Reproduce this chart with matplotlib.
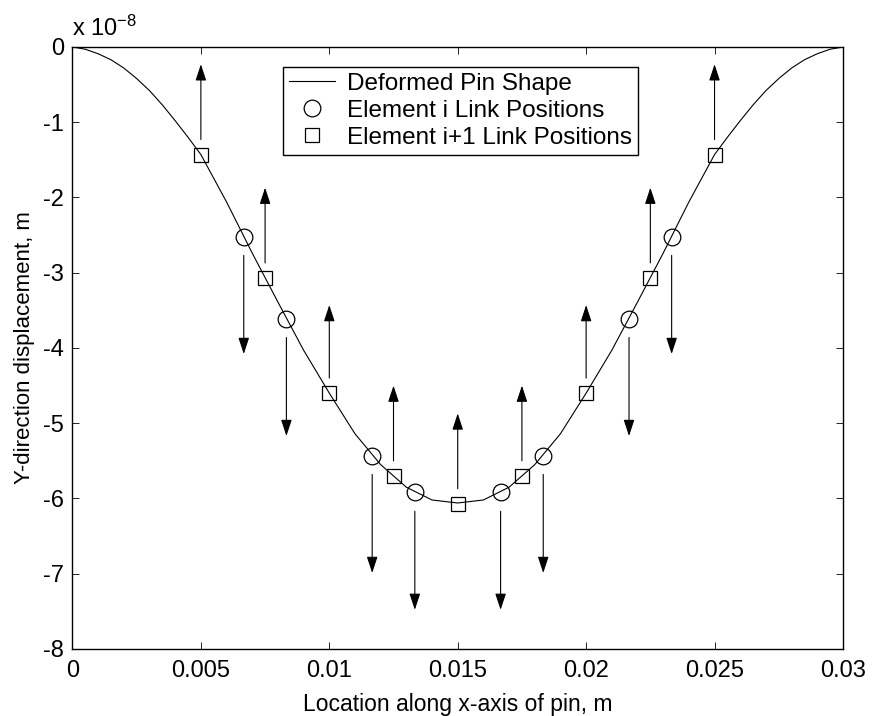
import numpy as np
import matplotlib
matplotlib.use('Agg')
import matplotlib.pyplot as plt
from matplotlib.ticker import FormatStrFormatter

plt.rcParams['font.family'] = ['Liberation Sans', 'DejaVu Sans']
plt.rcParams['mathtext.fontset'] = 'custom'
plt.rcParams['mathtext.rm'] = 'Liberation Sans'
plt.rcParams['mathtext.it'] = 'Liberation Sans:italic'

# pin shape, y in units of 1e-8 m
pin_x = [0.0000, 0.0005, 0.0010, 0.0015, 0.0020, 0.0025, 0.0030, 0.0035, 0.0040, 0.0045,
         0.005, 0.006, 0.007, 0.008, 0.009, 0.010, 0.011, 0.012, 0.013, 0.014,
         0.015, 0.016, 0.017, 0.018, 0.019, 0.020, 0.021, 0.022, 0.023, 0.024,
         0.0250, 0.0255, 0.0260, 0.0265, 0.0270, 0.0275, 0.0280, 0.0285, 0.0290, 0.0295, 0.0300]
pin_y = [0.00, -0.03, -0.09, -0.17, -0.28, -0.42, -0.58, -0.77, -0.98, -1.20,
         -1.43, -2.06, -2.74, -3.39, -4.03, -4.60, -5.14, -5.55, -5.85, -6.02,
         -6.06, -6.02, -5.85, -5.55, -5.14, -4.60, -4.03, -3.39, -2.74, -2.06,
         -1.43, -1.20, -0.98, -0.77, -0.58, -0.42, -0.28, -0.17, -0.09, -0.03, 0.00]

# element i links (circles) - load pushes down
link_i_x = [0.00667, 0.00833, 0.01167, 0.01333, 0.01667, 0.01833, 0.02167, 0.02333]
link_i_y = [-2.52, -3.61, -5.43, -5.92, -5.92, -5.43, -3.61, -2.52]
link_i_force = [1.31, 1.31, 1.31, 1.31, 1.31, 1.31, 1.31, 1.31]

# element i+1 links (squares) - load pushes up
link_j_x = [0.005, 0.0075, 0.010, 0.0125, 0.015, 0.0175, 0.020, 0.0225, 0.025]
link_j_y = [-1.43, -3.07, -4.60, -5.70, -6.07, -5.70, -4.60, -3.07, -1.43]
link_j_force = [1.0, 1.0, 0.97, 1.0, 1.0, 1.0, 0.97, 1.0, 1.0]

fig = plt.figure(figsize=(8.72, 7.16), dpi=100)
ax = fig.add_axes([0.0831, 0.0936, 0.8836, 0.8408])

ax.plot(pin_x, pin_y, color='k', lw=0.8, label='Deformed Pin Shape')
ax.plot(link_i_x, link_i_y, 'o', ms=12, mfc='none', mec='k', mew=0.9,
        label='Element i Link Positions')
ax.plot(link_j_x, link_j_y, 's', ms=10.5, mfc='none', mec='k', mew=0.9,
        label='Element i+1 Link Positions')

arrow_style = '-|>,head_length=1.0,head_width=0.33'
for x, y, f in zip(link_i_x, link_i_y, link_i_force):
    ax.annotate('', xy=(x, y - 0.25 - f), xytext=(x, y - 0.25),
                arrowprops=dict(arrowstyle=arrow_style, mutation_scale=10,
                                color='k', lw=0.8, shrinkA=0, shrinkB=0))
for x, y, f in zip(link_j_x, link_j_y, link_j_force):
    ax.annotate('', xy=(x, y + 0.2 + f), xytext=(x, y + 0.2),
                arrowprops=dict(arrowstyle=arrow_style, mutation_scale=10,
                                color='k', lw=0.8, shrinkA=0, shrinkB=0))

ax.set_xlim(0, 0.03)
ax.set_ylim(-8, 0)
ax.set_xticks(np.arange(0, 0.0301, 0.005))
ax.set_yticks(np.arange(-8, 0.1, 1))
ax.xaxis.set_major_formatter(FormatStrFormatter('%g'))
ax.yaxis.set_major_formatter(FormatStrFormatter('%g'))
ax.tick_params(direction='in', length=5, width=0.6, top=True, right=True,
               labelsize=17)
ax.tick_params(axis='x', pad=8)
ax.tick_params(axis='y', pad=6)
for s in ax.spines.values():
    s.set_linewidth(1.0)

ax.set_xlabel('Location along x-axis of pin, m', fontsize=16.5, labelpad=8)
ax.set_ylabel('Y-direction displacement, m', fontsize=16, labelpad=6)
ax.text(0, 1.01, r'x 10$^{-8}$', transform=ax.transAxes, fontsize=17,
        ha='left', va='bottom')

leg = ax.legend(loc='upper left', bbox_to_anchor=(0.273, 0.967), fontsize=17.5,
                frameon=True, fancybox=False, framealpha=1, edgecolor='k',
                handlelength=1.9, borderpad=0.25, labelspacing=0.2,
                handletextpad=0.5, borderaxespad=0)
leg.get_frame().set_linewidth(1.0)

fig.savefig('out.png', dpi=100)
